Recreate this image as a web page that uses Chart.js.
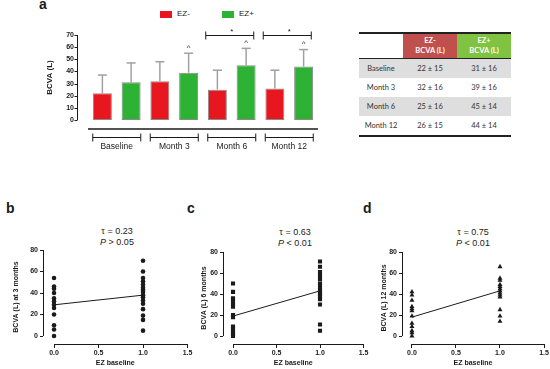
<!DOCTYPE html>
<html lang="en">
<head>
<meta charset="UTF-8">
<title>BCVA by EZ status</title>
<script src="https://cdn.jsdelivr.net/npm/chart.js"></script>
<style>
  body { margin:0; width:550px; height:369px; position:relative; overflow:hidden; background:#fff;
         font-family:'Liberation Sans', Arial, sans-serif; color:#1a1a1a; }
  canvas { position:absolute; }
  .tag { position:absolute; font-weight:bold; font-size:14px; line-height:14px; }
  .stat { position:absolute; width:100px; text-align:center; font-size:9px; line-height:11px; }
  .key { position:absolute; font-size:8px; line-height:8px; }
  .sw { position:absolute; width:12px; height:7px; }
  #tbl { position:absolute; left:359px; top:32px; border-collapse:collapse; font-family:Lato, 'Open Sans', sans-serif;
         font-size:7.5px; color:#333; border-top:2px solid #222; border-bottom:2px solid #222; }
  #tbl td, #tbl th { padding:0; text-align:center; height:19px; }
  #tbl th { height:24px; color:#fff; font-weight:bold; line-height:10px; border-bottom:1px solid #222; }
  #tbl tr.alt td { background:#dedede; }
</style>
</head>
<body>
  <div class="tag" style="left:39px;top:-3px">a</div>
  <div class="sw" style="left:160px;top:11px;background:#e8161e"></div>
  <div class="key" style="left:177px;top:10px">EZ-</div>
  <div class="sw" style="left:222px;top:11px;background:#2db236"></div>
  <div class="key" style="left:239px;top:10px">EZ+</div>
  <canvas id="chartA" width="340" height="170" style="left:0;top:0"></canvas>

  <table id="tbl">
    <thead><tr>
      <th style="width:44px;background:#fff"></th>
      <th style="width:54px;background:#c0504d">EZ-<br>BCVA (L)</th>
      <th style="width:54px;background:#80c242">EZ+<br>BCVA (L)</th>
    </tr></thead>
    <tbody id="tblBody"></tbody>
  </table>

  <div class="tag" style="left:6px;top:201px">b</div>
  <div class="tag" style="left:187px;top:201px">c</div>
  <div class="tag" style="left:363px;top:201px">d</div>
  <div class="stat" style="left:67px;top:226px">&tau; = 0.23<br><i>P</i> &gt; 0.05</div>
  <div class="stat" style="left:245px;top:227px">&tau; = 0.63<br><i>P</i> &lt; 0.01</div>
  <div class="stat" style="left:423px;top:227px">&tau; = 0.75<br><i>P</i> &lt; 0.01</div>
  <canvas id="chartB" width="195" height="179" style="left:0;top:190px"></canvas>
  <canvas id="chartC" width="175" height="179" style="left:195px;top:190px"></canvas>
  <canvas id="chartD" width="175" height="179" style="left:375px;top:190px"></canvas>

<script>
  // panel a: mean ± SD of BCVA (letters) per visit
  const visits      = ['Baseline', 'Month 3', 'Month 6', 'Month 12'];
  const ezMinusMean = [22, 32, 25, 26];
  const ezMinusSd   = [15, 16, 16, 15];
  const ezPlusMean  = [31, 39, 45, 44];
  const ezPlusSd    = [16, 16, 14, 14];
  const caretOnPlus = [false, true, true, true];   // ^ above EZ+ bar
  const starBracket = [false, false, true, true];  // * bracket above visit
  const barTicks    = [0, 10, 20, 30, 40, 50, 60, 70];

  // panels b-d: BCVA against baseline EZ (0 / 1)
  const xTicks = [0, 0.5, 1.0, 1.5];
  const yTicks = [0, 20, 40, 60, 80];
  const m3Ez0  = [54, 46, 44, 40, 35, 32, 29, 26, 20, 10, 6, 0];
  const m3Ez1  = [70, 60, 54, 51, 48, 45, 43, 41, 38, 36, 33, 30, 25, 19, 15, 5];
  const m3Fit  = [29, 38];
  const m6Ez0  = [50, 42, 36, 33, 30, 28, 20, 18, 9, 7, 4, 2, 0];
  const m6Ez1  = [71, 66, 61, 57, 54, 50, 47, 44, 42, 40, 38, 35, 30, 11, 5];
  const m6Fit  = [19, 43];
  const m12Ez0 = [42, 39, 34, 28, 26, 24, 19, 12, 9, 5, 3, 0];
  const m12Ez1 = [66, 55, 53, 49, 47, 45, 43, 41, 39, 37, 25, 19, 14];
  const m12Fit = [18, 43];

  const RED = '#e8161e', GREEN = '#2db236', INK = '#1a1a1a';
  Chart.defaults.font.family = "'Liberation Sans', Arial, sans-serif";
  Chart.defaults.color = INK;

  // table
  const body = document.getElementById('tblBody');
  visits.forEach((v, i) => {
    const tr = document.createElement('tr');
    if (i % 2 === 0) tr.className = 'alt';
    tr.innerHTML = `<td>${v}</td><td>${ezMinusMean[i]} ± ${ezMinusSd[i]}</td><td>${ezPlusMean[i]} ± ${ezPlusSd[i]}</td>`;
    body.appendChild(tr);
  });

  function seg(ctx, x1, y1, x2, y2) {
    ctx.beginPath(); ctx.moveTo(x1, y1); ctx.lineTo(x2, y2); ctx.stroke();
  }

  const barExtras = {
    id: 'barExtras',
    afterDraw(chart) {
      const { ctx, chartArea: a, scales: { x, y } } = chart;
      ctx.save();
      // offset y axis
      ctx.strokeStyle = INK; ctx.lineWidth = 1;
      const ax = a.left - 10.5;
      seg(ctx, ax, y.getPixelForValue(0), ax, y.getPixelForValue(70));
      barTicks.forEach(t => seg(ctx, ax - 3, Math.round(y.getPixelForValue(t)) + 0.5, ax, Math.round(y.getPixelForValue(t)) + 0.5));

      // error bars (upper only) and ^ marks
      chart.data.datasets.forEach((ds, i) => {
        chart.getDatasetMeta(i).data.forEach((bar, j) => {
          const top = y.getPixelForValue(ds.data[j] + ds.sd[j]);
          ctx.strokeStyle = '#a0a0a0'; ctx.lineWidth = 1.5;
          seg(ctx, bar.x, bar.y, bar.x, top);
          seg(ctx, bar.x - 4.5, top, bar.x + 4.5, top);
          if (ds.caret && ds.caret[j]) {
            ctx.fillStyle = INK; ctx.font = "8px 'Liberation Sans', Arial";
            ctx.textAlign = 'center'; ctx.textBaseline = 'alphabetic';
            ctx.fillText('^', bar.x, top - 3.5);
          }
        });
      });

      // grouped x axis: rule + brackets
      ctx.strokeStyle = INK; ctx.lineWidth = 1.3;
      seg(ctx, a.left, a.bottom + 9, a.right, a.bottom + 9);
      ctx.lineWidth = 1;
      visits.forEach((v, i) => {
        const c = x.getPixelForValue(i);
        const by = a.bottom + 17.5;
        seg(ctx, c - 24, by, c + 24, by);
        seg(ctx, c - 24, by - 4, c - 24, by + 4);
        seg(ctx, c + 24, by - 4, c + 24, by + 4);
        if (starBracket[i]) {
          const sy = y.getPixelForValue(70) + 0.5;
          seg(ctx, c - 26, sy, c + 22, sy);
          seg(ctx, c - 26, sy - 4, c - 26, sy + 4);
          seg(ctx, c + 22, sy - 4, c + 22, sy + 4);
          ctx.fillStyle = INK; ctx.font = "8px 'Liberation Sans', Arial";
          ctx.textAlign = 'center'; ctx.textBaseline = 'alphabetic';
          ctx.fillText('*', c, sy - 2);
        }
      });
      ctx.restore();
    }
  };

  new Chart(document.getElementById('chartA'), {
    type: 'bar',
    data: {
      labels: visits,
      datasets: [
        { label: 'EZ-', data: ezMinusMean, sd: ezMinusSd, backgroundColor: RED,
          borderColor: '#8a8a8a', borderWidth: 1, borderSkipped: false },
        { label: 'EZ+', data: ezPlusMean, sd: ezPlusSd, caret: caretOnPlus, backgroundColor: GREEN,
          borderColor: '#8a8a8a', borderWidth: 1, borderSkipped: false }
      ]
    },
    options: {
      responsive: false,
      animation: false,
      layout: { padding: { top: 35, right: 22, bottom: 0, left: 0 } },
      datasets: { bar: { categoryPercentage: 1, barPercentage: 0.66 } },
      plugins: { legend: { display: false }, tooltip: { enabled: false } },
      scales: {
        x: {
          grid: { display: false, drawTicks: false }, border: { display: false },
          ticks: { padding: 22, font: { size: 8.5 } },
          afterFit: s => { s.height = 50; }
        },
        y: {
          min: 0, max: 70,
          grid: { display: false, drawTicks: false }, border: { display: false },
          afterBuildTicks: s => { s.ticks = barTicks.map(v => ({ value: v })); },
          ticks: { padding: 14, font: { size: 7, weight: 'bold' } },
          title: { display: true, text: 'BCVA (L)', font: { size: 8, weight: 'bold' }, padding: { top: 45, bottom: 0 } },
          afterFit: s => { s.width = 88; }
        }
      }
    },
    plugins: [barExtras]
  });

  const axisLines = {
    id: 'axisLines',
    afterDraw(chart) {
      const { ctx, chartArea: a, scales: { x, y } } = chart;
      ctx.save();
      ctx.strokeStyle = INK; ctx.lineWidth = 1;
      const lx = Math.round(a.left) + 0.5, by = Math.round(a.bottom) + 0.5;
      seg(ctx, lx, y.getPixelForValue(0), lx, y.getPixelForValue(80));
      seg(ctx, x.getPixelForValue(0), by, x.getPixelForValue(1.5), by);
      ctx.restore();
    }
  };

  function scatterPanel(id, ez0, ez1, fit, style, radius, yTitle, g) {
    const pts = ez0.map(v => ({ x: 0, y: v })).concat(ez1.map(v => ({ x: 1, y: v })));
    return new Chart(document.getElementById(id), {
      type: 'scatter',
      data: {
        datasets: [
          { type: 'line', data: [{ x: 0, y: fit[0] }, { x: 1, y: fit[1] }],
            borderColor: INK, borderWidth: 1, pointRadius: 0 },
          { data: pts, pointStyle: style, pointRadius: radius,
            backgroundColor: INK, borderColor: INK, borderWidth: 0 }
        ]
      },
      options: {
        responsive: false,
        animation: false,
        layout: { padding: { top: g.top, right: g.right, bottom: 0, left: 0 } },
        plugins: { legend: { display: false }, tooltip: { enabled: false } },
        scales: {
          x: {
            type: 'linear', min: g.xmin, max: 1.5,
            afterBuildTicks: s => { s.ticks = xTicks.map(v => ({ value: v })); },
            grid: { drawOnChartArea: false, tickLength: 4, color: INK }, border: { display: false },
            ticks: { padding: 1, font: { size: 7, weight: 'bold' }, callback: v => v.toFixed(1) },
            title: { display: true, text: 'EZ baseline', font: { size: 7, weight: 'bold' }, padding: { top: 0, bottom: 2 } },
            afterFit: s => { s.height = 25; }
          },
          y: {
            min: g.ymin, max: 80,
            afterBuildTicks: s => { s.ticks = yTicks.map(v => ({ value: v })); },
            grid: { drawOnChartArea: false, tickLength: 3, color: INK }, border: { display: false },
            ticks: { padding: 2, font: { size: 7, weight: 'bold' } },
            title: { display: true, text: yTitle, font: { size: 7, weight: 'bold' }, padding: { top: g.titlePad, bottom: 0 } },
            afterFit: s => { s.width = g.axis; }
          }
        }
      },
      plugins: [axisLines]
    });
  }

  scatterPanel('chartB', m3Ez0, m3Ez1, m3Fit, 'circle', 2.3, 'BCVA (L) at 3 months',
    { top: 60, right: 7.5, axis: 43, xmin: -0.124, ymin: -7.44, titlePad: 11.8 });
  scatterPanel('chartC', m6Ez0, m6Ez1, m6Fit, 'rect', 2.9, 'BCVA (L) 6 months',
    { top: 62, right: 6.5, axis: 28, xmin: -0.115, ymin: -7.6, titlePad: 5 });
  scatterPanel('chartD', m12Ez0, m12Ez1, m12Fit, 'triangle', 2.9, 'BCVA (L) 12 months',
    { top: 62, right: 6, axis: 27, xmin: -0.113, ymin: -7.6, titlePad: 4.5 });
</script>
</body>
</html>
